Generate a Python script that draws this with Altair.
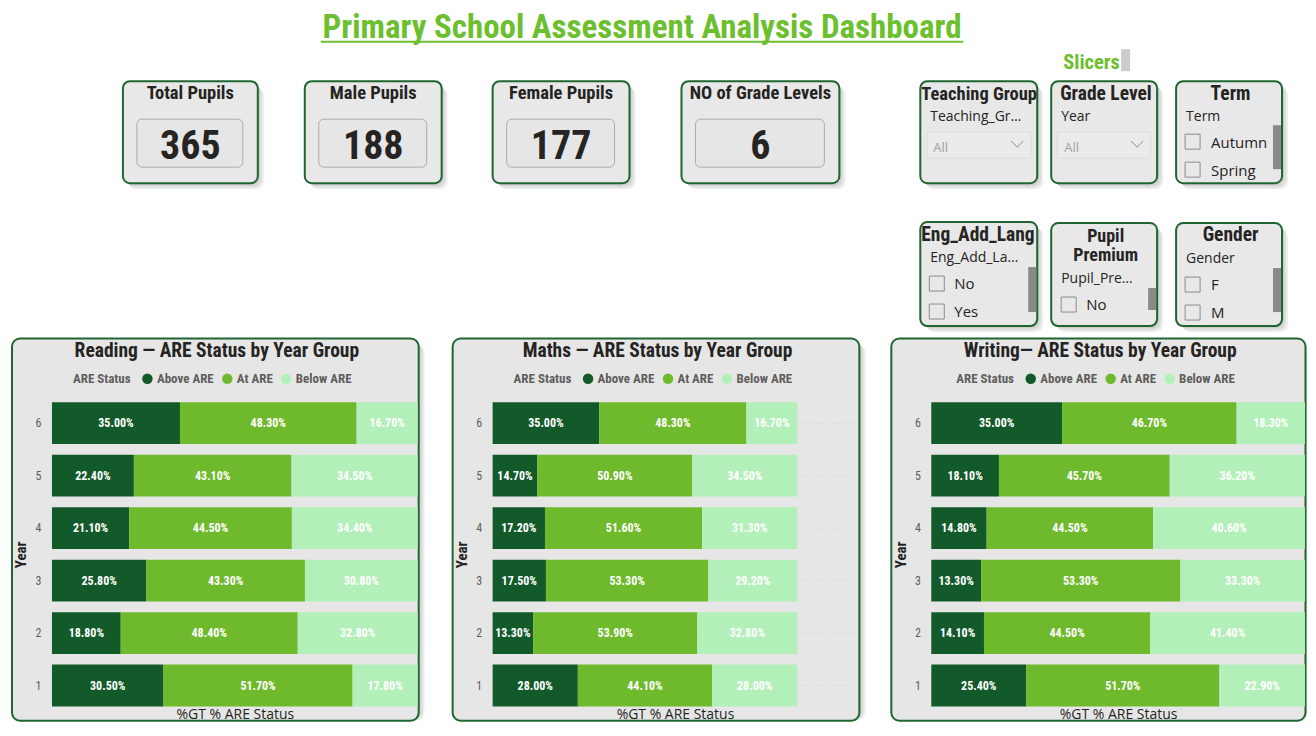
import altair as alt
import pandas as pd

# ---------------- data ----------------
years = ["6", "5", "4", "3", "2", "1"]
statuses = ["Above ARE", "At ARE", "Below ARE"]

reading_above = [35.0, 22.4, 21.1, 25.8, 18.8, 30.5]
reading_at = [48.3, 43.1, 44.5, 43.3, 48.4, 51.7]
reading_below = [16.7, 34.5, 34.4, 30.8, 32.8, 17.8]

maths_above = [35.0, 14.7, 17.2, 17.5, 13.3, 28.0]
maths_at = [48.3, 50.9, 51.6, 53.3, 53.9, 44.1]
maths_below = [16.7, 34.5, 31.3, 29.2, 32.8, 28.0]

writing_above = [35.0, 18.1, 14.8, 13.3, 14.1, 25.4]
writing_at = [46.7, 45.7, 44.5, 53.3, 44.5, 51.7]
writing_below = [18.3, 36.2, 40.6, 33.3, 41.4, 22.9]

kpi_titles = ["Total Pupils", "Male Pupils", "Female Pupils", "NO of Grade Levels"]
kpi_values = [365, 188, 177, 6]

dashboard_title = "Primary School Assessment Analysis Dashboard"
slicers_label = "Slicers"
slicer_titles = ["Teaching Group", "Grade Level", "Term", "Eng_Add_Lang", "Pupil", "Premium", "Gender"]
slicer_fields = ["Teaching_Gr…", "Year", "Term", "Eng_Add_La…", "Pupil_Pre…", "Gender"]
dropdown_values = ["All", "All"]
term_options = ["Autumn", "Spring"]
eal_options = ["No", "Yes"]
pp_options = ["No"]
gender_options = ["F", "M"]

# ---------------- styles ----------------
DIN = "Liberation Sans Narrow, Roboto Condensed, Roboto, sans-serif"
SEGOE = "Segoe UI, Open Sans, Noto Sans, sans-serif"
TITLE_GREEN = "#6cbf2e"
BORDER = "#1f6532"
CARD_BG = "#e8e8e8"
PANEL_BG = "#e6e6e6"
DARK = "#252423"
GRAY = "#605e5c"
COLORS = ["#135a2b", "#6fba2c", "#b3f0b9"]

# page position of the top chart origin (aligned with the Reading plot origin)
OX, OY = 52, 8


def txt(items, **kw):
    df = pd.DataFrame(items, columns=["x", "y", "t"])
    df["x"] = df["x"] - OX
    df["y"] = df["y"] - OY
    return alt.Chart(df).mark_text(**kw).encode(
        x=alt.X("x:Q", scale=None, axis=None),
        y=alt.Y("y:Q", scale=None, axis=None),
        text="t:N",
    )


def boxes(items, **kw):
    df = pd.DataFrame(items, columns=["x0", "x1", "y0", "y1"])
    df[["x0", "x1"]] = df[["x0", "x1"]] - OX
    df[["y0", "y1"]] = df[["y0", "y1"]] - OY
    return alt.Chart(df).mark_rect(**kw).encode(
        x=alt.X("x0:Q", scale=None, axis=None), x2="x1:Q",
        y=alt.Y("y0:Q", scale=None, axis=None), y2="y1:Q",
    )


def lines(items, **kw):
    df = pd.DataFrame(items, columns=["x0", "y0", "x1", "y1"])
    df[["x0", "x1"]] = df[["x0", "x1"]] - OX
    df[["y0", "y1"]] = df[["y0", "y1"]] - OY
    return alt.Chart(df).mark_rule(**kw).encode(
        x=alt.X("x0:Q", scale=None, axis=None), x2="x1:Q",
        y=alt.Y("y0:Q", scale=None, axis=None), y2="y1:Q",
    )


# ---------------- top area layout (page px) ----------------
kpi_boxes = [(123, 258), (305, 442), (493, 630), (682, 840)]
kpi_inner = [(137, 243), (319, 427), (507, 615), (696, 825)]
slicer_boxes = [
    (921, 1038, 81, 183), (1052, 1158, 81, 183), (1177, 1283, 81, 183),
    (921, 1038, 222, 326), (1052, 1158, 223, 326), (1177, 1283, 223, 326),
]
cards = [(a, b, 81, 183) for a, b in kpi_boxes] + slicer_boxes

shadow_items = []
for d in (2, 4, 6):
    for a, b, c, e in cards:
        shadow_items.append((a + d, b + d, c + d, e + d))

top_layers = [
    boxes(shadow_items, fill="#000000", opacity=0.07, cornerRadius=8),
    boxes(cards, fill=CARD_BG, stroke=BORDER, strokeWidth=2, cornerRadius=7),
    boxes([(a, b, 119, 167) for a, b in kpi_inner], fill="#e6e6e6", stroke="#ababab",
          strokeWidth=1, cornerRadius=5),
    txt([((a + b) / 2, 99, t) for (a, b), t in zip(kpi_boxes, kpi_titles)],
        font=DIN, fontSize=18.5, fontWeight="bold", color=DARK, align="center", baseline="alphabetic"),
    txt([((a + b) / 2, 159, str(v)) for (a, b), v in zip(kpi_boxes, kpi_values)],
        font=DIN, fontSize=40, fontWeight="bold", color=DARK, align="center", baseline="alphabetic"),
    # dashboard title
    txt([(642.5, 38, dashboard_title)], font=DIN, fontSize=33, fontWeight="bold",
        color=TITLE_GREEN, align="center", baseline="alphabetic"),
    lines([(321, 41.5, 964, 41.5)], color=TITLE_GREEN, strokeWidth=2),
    # slicers label
    txt([(1064, 69, slicers_label)], font=DIN, fontSize=20.5, fontWeight="bold",
        color=TITLE_GREEN, align="left", baseline="alphabetic"),
    boxes([(1122, 1131, 49, 71)], fill="#cccccc"),
    # slicer titles
    txt([(922, 100, slicer_titles[0])],
        font=DIN, fontSize=18.5, fontWeight="bold", color=DARK, align="left", baseline="alphabetic"),
    txt([(1061, 100, slicer_titles[1]), (922, 241, slicer_titles[3])],
        font=DIN, fontSize=19.5, fontWeight="bold", color=DARK, align="left", baseline="alphabetic"),
    txt([(1231.5, 100, slicer_titles[2]), (1231.5, 241, slicer_titles[6])],
        font=DIN, fontSize=19.5, fontWeight="bold", color=DARK, align="center", baseline="alphabetic"),
    txt([(1106.5, 242, slicer_titles[4]), (1106.5, 261, slicer_titles[5])],
        font=DIN, fontSize=18, fontWeight="bold", color=DARK, align="center", baseline="alphabetic"),
    txt([(931, 121, slicer_fields[0]), (1062, 121, slicer_fields[1]),
         (1187, 121, slicer_fields[2]), (931, 262, slicer_fields[3]),
         (1062, 283, slicer_fields[4]), (1187, 263, slicer_fields[5])],
        font=SEGOE, fontSize=14, color=DARK, align="left", baseline="alphabetic"),
    # dropdowns
    boxes([(928, 1032, 132, 158), (1058, 1151, 132, 158)], fill="#ebebeb",
          stroke="#dddddd", strokeWidth=1),
    txt([(934, 151.5, dropdown_values[0]), (1065, 151.5, dropdown_values[1])],
        font=SEGOE, fontSize=13, color="#a0a0a0", align="left", baseline="alphabetic"),
    lines([(1012, 141, 1018, 147), (1018, 147, 1024, 141),
           (1132, 141, 1138, 147), (1138, 147, 1144, 141)], color="#8a8a8a", strokeWidth=1),
    # checkboxes
    boxes([(1186, 1201, 134, 149), (1186, 1201, 162, 177),
           (930, 945, 276, 291), (930, 945, 304, 319),
           (1062, 1077, 297, 312),
           (1186, 1201, 277, 292), (1186, 1201, 305, 320)],
          fillOpacity=0, stroke="#8c8c8c", strokeWidth=1),
    txt([(1212, 147.5, term_options[0]), (1212, 175.5, term_options[1]),
         (955, 288.5, eal_options[0]), (955, 316.5, eal_options[1]),
         (1087, 309.5, pp_options[0]),
         (1212, 289.5, gender_options[0]), (1212, 318, gender_options[1])],
        font=SEGOE, fontSize=15, color=DARK, align="left", baseline="alphabetic"),
    # scrollbars
    boxes([(1274, 1282, 125, 169), (1029, 1037, 267, 312),
           (1149, 1157, 288, 310), (1274, 1282, 268, 312)], fill="#8a8a8a"),
]

top = alt.layer(*top_layers).properties(width=1238, height=329)


# ---------------- bar panels ----------------
one = pd.DataFrame({"k": [0]})
PLOT_H = 315
RECT_TOP = -58.5
RECT_BOTTOM = 324


def panel(title, above, at, below, plot_w, x_max, rect_right, title_x, legend_x, shadow_ds):
    rows = []
    for i, yr in enumerate(years):
        for k, vals in enumerate((above, at, below)):
            rows.append({"Year": yr, "ARE Status": statuses[k], "order": k, "pct": vals[i] / 100})
    df = pd.DataFrame(rows)
    xs = alt.Scale(domain=[0, x_max], nice=False, zero=True)
    ys = alt.Scale(domain=years, paddingInner=0.2037, paddingOuter=0.1018)
    x_axis = alt.Axis(title="%GT % ARE Status", labels=False, ticks=False, domain=False,
                      grid=False, titleY=2.5, titleBaseline="middle", titleFont=SEGOE,
                      titleFontSize=14, titleFontWeight="normal", titleColor=DARK, zindex=1)
    y_axis = alt.Axis(title="Year", ticks=False, domain=False, grid=False, labelPadding=11,
                      labelFont=DIN, labelFontSize=12, labelColor=GRAY, titleX=-31,
                      titleY=PLOT_H / 2, titleAlign="center", titleBaseline="middle",
                      titleFont=DIN, titleFontSize=15, titleFontWeight="bold",
                      titleColor=DARK, zindex=1)
    y_enc = alt.Y("Year:N", scale=ys, sort=years, axis=y_axis)

    shadows = []
    for d in shadow_ds:
        shadows.append(alt.Chart(one).mark_rect(fill="#000000", opacity=0.07, cornerRadius=9).encode(
            x=alt.value(-40 + d), x2=alt.value(rect_right + d),
            y=alt.value(RECT_TOP + d), y2=alt.value(RECT_BOTTOM)))
    bg = alt.Chart(one).mark_rect(fill=PANEL_BG, stroke=BORDER, strokeWidth=2, cornerRadius=8).encode(
        x=alt.value(-40), x2=alt.value(rect_right), y=alt.value(RECT_TOP), y2=alt.value(RECT_BOTTOM))
    head = alt.Chart(one).mark_text(text=title, font=DIN, fontSize=19.5, fontWeight="bold",
                                    color=DARK, align="center", baseline="middle").encode(
        x=alt.value(title_x), y=alt.value(-46.5))
    grid = alt.Chart(pd.DataFrame({"Year": years})).mark_rule(
        color="#c8c8c8", strokeDash=[1, 4], strokeWidth=1).encode(
        y=y_enc, x=alt.value(0), x2=alt.value(plot_w))

    stacked = alt.Chart(df).transform_stack(
        stack="pct", groupby=["Year"], as_=["x0", "x1"],
        sort=[alt.SortField("order", order="ascending")], offset="normalize",
    ).transform_calculate(mid="(datum.x0 + datum.x1) / 2")

    legend = alt.Legend(
        orient="none", legendX=legend_x, legendY=-25, direction="horizontal",
        title="ARE Status", titleOrient="left", titleFont=DIN, titleFontSize=13,
        titleFontWeight="bold", titleColor=GRAY, titlePadding=10,
        labelFont=DIN, labelFontSize=13, labelFontWeight="bold", labelColor=GRAY,
        labelOffset=3, columnPadding=7, symbolType="circle", symbolSize=110,
        symbolStrokeWidth=0)
    bars = stacked.mark_bar().encode(
        x=alt.X("x0:Q", scale=xs, axis=x_axis), x2="x1:Q", y=y_enc,
        color=alt.Color("ARE Status:N", scale=alt.Scale(domain=statuses, range=COLORS),
                        legend=legend),
    )
    labels = stacked.mark_text(font=DIN, fontSize=12, fontWeight="bold", color="white").encode(
        x=alt.X("mid:Q", scale=xs, axis=x_axis), y=y_enc,
        text=alt.Text("pct:Q", format=".2%"),
    )
    return alt.layer(*shadows, bg, head, grid, bars, labels).properties(
        width=plot_w, height=PLOT_H)


reading = panel("Reading — ARE Status by Year Group", reading_above, reading_at, reading_below,
                366, 1.0, 367, 165, 21, (2, 4, 6))
maths = panel("Maths — ARE Status by Year Group", maths_above, maths_at, maths_below,
              365, 1.197, 367, 165, 21, (2, 4, 6))
writing = panel("Writing— ARE Status by Year Group", writing_above, writing_at, writing_below,
                374, 1.0, 374.5, 169, 25, (1, 2))

indep = dict(x="independent", y="independent", color="independent")
row = alt.hconcat(
    alt.hconcat(reading, maths, spacing=27).resolve_scale(**indep).resolve_legend(color="independent"),
    writing, spacing=25,
).resolve_scale(**indep).resolve_legend(color="independent")

chart = alt.vconcat(top, row, spacing=0).properties(
    padding={"left": 3, "top": 0, "right": 0, "bottom": 0}, background="white",
).configure_view(strokeWidth=0)

chart.save("out.html", embed_options={"renderer": "svg", "actions": False})
